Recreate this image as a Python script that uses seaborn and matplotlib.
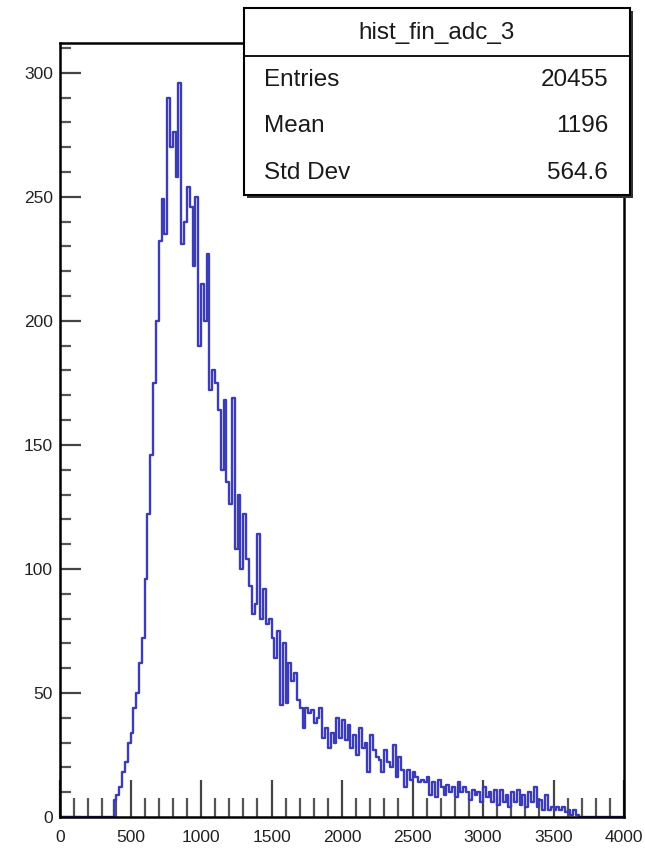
import numpy as np
import pandas as pd
import matplotlib
matplotlib.use('Agg')
import matplotlib.pyplot as plt
from matplotlib.patches import Rectangle
from matplotlib.ticker import MultipleLocator
import seaborn as sns

# Histogram data (bin width 20, bins start at 380)
hist_name = 'hist_fin_adc_3'
stat_labels = ['Entries', 'Mean', 'Std Dev']
stat_values = ['20455', '1196', '564.6']
bin_width = 20
first_bin = 380
counts = [
    7, 9, 12, 18, 22, 30, 34, 44, 50, 62,            # 380-560
    72, 96, 122, 146, 175, 200, 232, 249, 235, 290,  # 580-760
    270, 276, 258, 296, 231, 240, 254, 246, 222, 250,  # 780-960
    190, 215, 200, 227, 172, 180, 175, 164, 140, 168,  # 980-1160
    135, 126, 169, 108, 130, 100, 122, 104, 93, 82,    # 1180-1360
    86, 114, 80, 92, 78, 80, 72, 64, 75, 45,           # 1380-1560
    70, 46, 62, 55, 58, 47, 44, 36, 44, 42,            # 1580-1760
    43, 38, 40, 44, 32, 36, 28, 34, 30, 40,            # 1780-1960
    32, 39, 31, 37, 28, 33, 25, 36, 28, 30,            # 1980-2160
    18, 33, 27, 24, 23, 18, 27, 22, 20, 29,            # 2180-2360
    16, 24, 19, 12, 19, 15, 18, 16, 14, 15,            # 2380-2560
    14, 16, 9, 14, 8, 15, 12, 9, 13, 10,               # 2580-2760
    12, 8, 14, 10, 12, 10, 7, 11, 9, 10,               # 2780-2960
    6, 12, 8, 10, 6, 11, 5, 11, 6, 9,                  # 2980-3160
    4, 10, 6, 11, 5, 9, 4, 10, 6, 12,                  # 3180-3360
    4, 7, 3, 9, 3, 4, 3, 4, 3, 4,                      # 3380-3560
    2, 3, 1, 3, 1,                                     # 3580-3660
]

bin_left = first_bin + bin_width * np.arange(len(counts))
df = pd.DataFrame({'adc': bin_left + bin_width / 2, 'count': counts})

sns.set_style('ticks')
plt.rcParams['font.family'] = ['Liberation Sans', 'DejaVu Sans']

W, H = 645, 849
fig = plt.figure(figsize=(W / 100, H / 100), dpi=100)
ax = fig.add_axes([60 / W, 1 - 817 / H, (624 - 60) / W, (817 - 43) / H])

sns.histplot(data=df, x='adc', weights='count', binwidth=bin_width, binrange=(0, 4000),
             element='step', fill=False, color='#3c3cb4', linewidth=1.7, ax=ax)

ax.set_xlim(0, 4000)
ax.set_ylim(0, 312)
ax.set_xlabel('')
ax.set_ylabel('')

# ROOT-style axes: ticks inside, only bottom and left
ax.xaxis.set_major_locator(MultipleLocator(500))
ax.xaxis.set_minor_locator(MultipleLocator(100))
ax.yaxis.set_major_locator(MultipleLocator(50))
ax.yaxis.set_minor_locator(MultipleLocator(10))
ax.tick_params(axis='x', which='major', direction='in', length=27, width=1.6,
               color='#444444', labelsize=12.5, pad=9, labelcolor='#222222')
ax.tick_params(axis='x', which='minor', direction='in', length=14, width=1.6,
               color='#555555')
ax.tick_params(axis='y', which='major', direction='in', length=15, width=1.6,
               color='#444444', labelsize=12.5, pad=5, labelcolor='#222222')
ax.tick_params(axis='y', which='minor', direction='in', length=8, width=1.6,
               color='#555555')
for side in ['left', 'right', 'top', 'bottom']:
    ax.spines[side].set_visible(True)
    ax.spines[side].set_linewidth(1.8)
    ax.spines[side].set_color('black')

# Stats box (pixel coords converted to figure fraction)
def fx(px):
    return px / W

def fy(py):
    return 1 - py / H

box_l, box_r, box_t, box_b = 244, 630, 8, 195
shadow = Rectangle((fx(box_l + 3), fy(box_b + 3)), fx(box_r - box_l), (box_b - box_t) / H,
                   transform=fig.transFigure, facecolor='#333333', edgecolor='none', zorder=5)
box = Rectangle((fx(box_l), fy(box_b)), fx(box_r - box_l), (box_b - box_t) / H,
                transform=fig.transFigure, facecolor='white', edgecolor='black',
                linewidth=1.5, zorder=6)
fig.patches.extend([shadow, box])
fig.add_artist(plt.Line2D([fx(box_l), fx(box_r)], [fy(56), fy(56)], color='black',
                          linewidth=1.3, zorder=7))
fig.text(fx((box_l + box_r) / 2), fy(33), hist_name, ha='center', va='center',
         fontsize=17.5, color='#1a1a1a', zorder=8)
for i, (lab, val) in enumerate(zip(stat_labels, stat_values)):
    y = fy(80 + 46.5 * i)
    fig.text(fx(264), y, lab, ha='left', va='center', fontsize=17.5, color='#1a1a1a', zorder=8)
    fig.text(fx(608), y, val, ha='right', va='center', fontsize=17.5, color='#1a1a1a', zorder=8)

plt.savefig('out.png', dpi=100)
plt.close()
